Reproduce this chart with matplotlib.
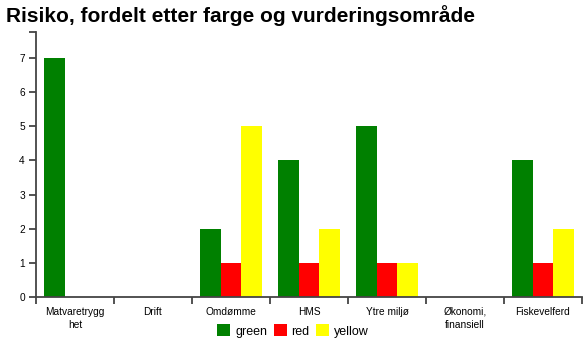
import numpy as np
import matplotlib.pyplot as plt
from matplotlib.patches import Patch

plt.rcParams['font.family'] = ['Liberation Sans', 'DejaVu Sans']

categories = ["Matvaretrygg\nhet", "Drift", "Omdømme", "HMS", "Ytre miljø",
              "Økonomi,\nfinansiell", "Fiskevelferd"]
series = ["green", "red", "yellow"]
green = [7, 0, 2, 4, 5, 0, 4]
red = [0, 0, 1, 1, 1, 0, 1]
yellow = [0, 0, 5, 2, 1, 0, 2]
colors = ["#008000", "#ff0000", "#ffff00"]

fig = plt.figure(figsize=(5.88, 3.53), dpi=100)
ax = fig.add_axes([36/588, 1-297/353, 546/588, 265/353])

x = np.arange(len(categories))
w = 0.8 / 3
for k, (vals, c) in enumerate(zip([green, red, yellow], colors)):
    ax.bar(x + 0.1 + k*w, vals, width=w, align="edge", color=c, linewidth=0)

ymax = 7.76
ax.set_xlim(0, len(categories))
ax.set_ylim(0, ymax)

axcol = "#444444"
for s in ["top", "right"]:
    ax.spines[s].set_visible(False)
for s in ["left", "bottom"]:
    ax.spines[s].set_color(axcol)
    ax.spines[s].set_linewidth(1.3)

ax.set_yticks(list(range(8)) + [ymax])
ax.set_yticklabels([str(i) for i in range(8)] + [""])
ax.set_xticks(np.arange(len(categories) + 1))
ax.set_xticklabels([])
ax.set_xticks(x + 0.5, minor=True)
ax.set_xticklabels(categories, minor=True, fontsize=7.3, linespacing=1.45)
ax.tick_params(axis="x", which="minor", length=0, pad=7)
ax.tick_params(axis="both", which="major", length=5, width=1.3, color=axcol,
               labelsize=7.3, pad=3)

fig.text(6/588, 1-22/353, "Risiko, fordelt etter farge og vurderingsområde",
         fontsize=15, fontweight="bold", ha="left", va="baseline")

handles = [Patch(facecolor=c, edgecolor="none", label=s) for s, c in zip(series, colors)]
fig.legend(handles=handles, loc="center", bbox_to_anchor=(293/588, 1-331/353), ncol=3,
           frameon=False, fontsize=9, handlelength=1.05, handleheight=1.05,
           handletextpad=0.4, columnspacing=0.5, borderpad=0)

fig.savefig("out.png", dpi=100)
